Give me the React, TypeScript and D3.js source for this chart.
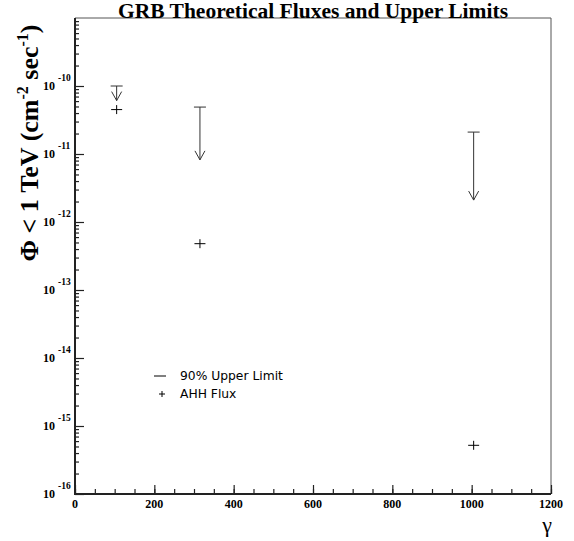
import React, { useEffect, useRef } from 'react';
import * as d3 from 'd3';

// gamma (x) positions of the three bursts
const gammaValues = [105, 315, 1005];
// AHH model flux at each gamma
const ahhFlux = [4.5e-11, 4.8e-13, 5.2e-16];
// 90% upper limits (top of the arrow) and where the arrow ends
const upperLimits = [1.0e-10, 4.9e-11, 2.1e-11];
const arrowEnds = [6.1e-11, 8.2e-12, 2.1e-12];

const xTicks = [0, 200, 400, 600, 800, 1000, 1200];
const yDecades = [-16, -15, -14, -13, -12, -11, -10];

export default function App() {
  const ref = useRef<SVGSVGElement>(null);

  useEffect(() => {
    const svg = d3.select(ref.current);
    svg.selectAll('*').remove();

    const left = 75, right = 551, top = 18, bottom = 494;

    const x = d3.scaleLinear().domain([0, 1200]).range([left, right]);
    const y = d3.scaleLog().domain([1e-16, 1e-9]).range([bottom, top]);

    // frame top + right (thin grey)
    svg.append('path')
      .attr('d', `M${left},${top}H${right}V${bottom}`)
      .attr('fill', 'none')
      .attr('stroke', '#555')
      .attr('stroke-width', 1);

    // minor y ticks
    const minorY: number[] = [];
    for (let e = -16; e < -9; e++) {
      for (let m = 2; m <= 9; m++) minorY.push(m * Math.pow(10, e));
    }
    const yMinor = svg.append('g')
      .attr('transform', `translate(${left},0)`)
      .call(d3.axisRight(y).tickValues(minorY).tickSize(4).tickFormat(() => ''));
    const yMajor = svg.append('g')
      .attr('transform', `translate(${left},0)`)
      .call(d3.axisRight(y).tickValues(yDecades.map(e => Math.pow(10, e))).tickSize(9).tickFormat(() => ''));

    // minor / major x ticks
    const xMinor = svg.append('g')
      .attr('transform', `translate(0,${bottom})`)
      .call(d3.axisTop(x).tickValues(d3.range(0, 1201, 50)).tickSize(5).tickFormat(() => ''));
    const xMajor = svg.append('g')
      .attr('transform', `translate(0,${bottom})`)
      .call(d3.axisTop(x).tickValues(xTicks).tickSize(9).tickFormat(() => ''));

    [yMinor, yMajor, xMinor, xMajor].forEach(g => {
      g.select('.domain').remove();
      g.selectAll('line').attr('stroke', '#222').attr('stroke-width', 1.2);
    });

    // thick axis lines
    svg.append('path')
      .attr('d', `M${left},${top}V${bottom}H${right}`)
      .attr('fill', 'none')
      .attr('stroke', '#222')
      .attr('stroke-width', 2);

    // x tick labels
    svg.append('g').selectAll('text')
      .data(xTicks)
      .enter().append('text')
      .attr('x', d => x(d))
      .attr('y', bottom + 14)
      .attr('text-anchor', 'middle')
      .style('font-family', '"Liberation Serif", serif')
      .style('font-weight', 'bold')
      .style('font-size', '12px')
      .text(d => d);

    // y tick labels 10^n
    const yl = svg.append('g').selectAll('g')
      .data(yDecades)
      .enter().append('g')
      .attr('transform', d => `translate(0,${y(Math.pow(10, d))})`);
    yl.append('text')
      .attr('x', 43)
      .attr('y', 4)
      .style('font-family', '"Liberation Serif", serif')
      .style('font-weight', 'bold')
      .style('font-size', '12px')
      .text('10');
    yl.append('text')
      .attr('x', 58)
      .attr('y', -5)
      .style('font-family', '"Liberation Serif", serif')
      .style('font-weight', 'bold')
      .style('font-size', '9.5px')
      .text(d => d);

    // upper limit arrows
    const ul = svg.append('g')
      .attr('fill', 'none')
      .attr('stroke', '#333')
      .attr('stroke-width', 1);
    gammaValues.forEach((g, i) => {
      const px = x(g), y0 = y(upperLimits[i]), y1 = y(arrowEnds[i]);
      ul.append('path').attr('d', `M${px - 6},${y0}H${px + 6}`);
      ul.append('path').attr('d', `M${px},${y0}V${y1}`);
      ul.append('path').attr('d', `M${px - 5},${y1 - 9}L${px},${y1}L${px + 5},${y1 - 9}`);
    });

    // AHH flux markers
    const mk = svg.append('g').attr('stroke', '#000').attr('stroke-width', 1);
    gammaValues.forEach((g, i) => {
      const px = x(g), py = y(ahhFlux[i]);
      mk.append('path').attr('d', `M${px - 5.5},${py}H${px + 5.5}M${px},${py - 4.5}V${py + 4.5}`);
    });

    // legend
    const lg = svg.append('g');
    lg.append('path').attr('d', 'M154,376H166').attr('stroke', '#000').attr('stroke-width', 1);
    lg.append('path').attr('d', 'M159,394H165M162,391V397').attr('stroke', '#000').attr('stroke-width', 1);
    lg.selectAll('text')
      .data(['90% Upper Limit', 'AHH Flux'])
      .enter().append('text')
      .attr('x', 180)
      .attr('y', (d, i) => 380 + i * 18)
      .style('font-family', '"DejaVu Sans", sans-serif')
      .style('font-size', '12.3px')
      .text(d => d);

    // title
    svg.append('text')
      .attr('x', 313)
      .attr('y', 18)
      .attr('text-anchor', 'middle')
      .style('font-family', '"Liberation Serif", serif')
      .style('font-weight', 'bold')
      .style('font-size', '21.5px')
      .text('GRB Theoretical Fluxes and Upper Limits');

    // x title
    svg.append('text')
      .attr('x', 552)
      .attr('y', 532)
      .attr('text-anchor', 'end')
      .style('font-family', '"Liberation Serif", serif')
      .style('font-size', '22px')
      .text('γ');

    // y title
    const yt = svg.append('text')
      .attr('transform', 'translate(38,143) rotate(-90)')
      .attr('text-anchor', 'middle')
      .style('font-family', '"Liberation Serif", serif')
      .style('font-weight', 'bold')
      .style('font-size', '26px');
    yt.append('tspan').text('Φ < 1 TeV (cm');
    yt.append('tspan').attr('dy', -10).style('font-size', '16px').text('-2');
    yt.append('tspan').attr('dy', 10).text(' sec');
    yt.append('tspan').attr('dy', -10).style('font-size', '16px').text('-1');
    yt.append('tspan').attr('dy', 10).text(')');
  }, []);

  return (
    <div style={{ position: 'absolute', left: 0, top: 0 }}>
      <svg ref={ref} width={574} height={541} style={{ display: 'block', background: '#fff' }} />
    </div>
  );
}
